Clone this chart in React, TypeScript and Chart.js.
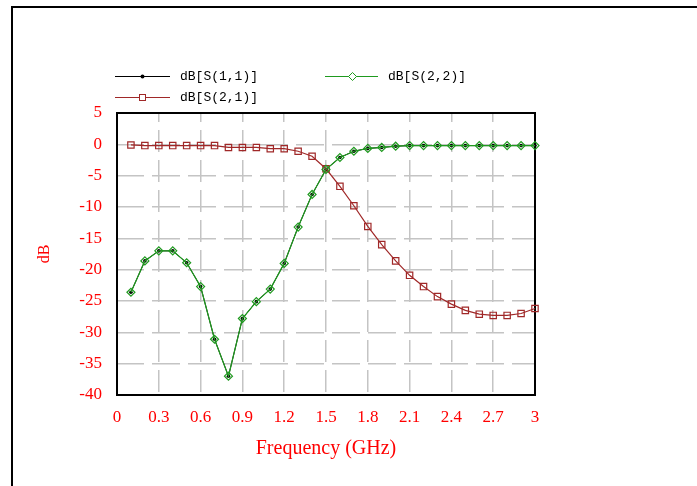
import React, { useEffect, useRef } from 'react';
import { Chart, registerables } from 'chart.js';

Chart.register(...registerables);

// ---- data ----
const freqGHz = [0.1, 0.2, 0.3, 0.4, 0.5, 0.6, 0.7, 0.8, 0.9, 1.0, 1.1, 1.2, 1.3, 1.4, 1.5, 1.6, 1.7, 1.8, 1.9, 2.0, 2.1, 2.2, 2.3, 2.4, 2.5, 2.6, 2.7, 2.8, 2.9, 3.0];
const s22 = [-23.6, -18.6, -17.0, -17.0, -18.9, -22.7, -31.1, -37.0, -27.8, -25.1, -23.1, -19.0, -13.2, -8.0, -4.0, -2.1, -1.1, -0.65, -0.5, -0.3, -0.2, -0.2, -0.2, -0.2, -0.2, -0.2, -0.2, -0.2, -0.2, -0.2];
const s11 = [-23.6, -18.6, -17.0, -17.0, -18.9, -22.7, -31.1, -37.0, -27.8, -25.1, -23.1, -19.0, -13.2, -8.0, -4.0, -2.1, -1.1, -0.65, -0.5, -0.3, -0.2, -0.2, -0.2, -0.2, -0.2, -0.2, -0.2, -0.2, -0.2, -0.2];
const s21 = [-0.1, -0.2, -0.2, -0.2, -0.2, -0.2, -0.2, -0.5, -0.5, -0.5, -0.7, -0.7, -1.1, -1.9, -3.9, -6.7, -9.8, -13.1, -16.0, -18.6, -20.9, -22.7, -24.3, -25.5, -26.5, -27.1, -27.3, -27.3, -27.0, -26.2];
const seriesNames = ['dB[S(1,1)]', 'dB[S(2,1)]', 'dB[S(2,2)]'];
const xTitle = 'Frequency (GHz)';
const yTitle = 'dB';

const GREEN = '#1f9a1f';
const MAROON = '#a02828';
const GRID = '#c4c4c4';
const RED = '#ff0000';

const pts = (ys: number[]) => freqGHz.map((x, i) => ({ x, y: ys[i] }));

const decorPlugin = {
  id: 'decor',
  beforeDraw(chart: any) {
    const ctx = chart.ctx;
    ctx.save();
    ctx.fillStyle = '#ffffff';
    ctx.fillRect(0, 0, chart.width, chart.height);
    ctx.strokeStyle = '#000';
    ctx.lineWidth = 2;
    ctx.beginPath();
    ctx.moveTo(12, chart.height + 5);
    ctx.lineTo(12, 7);
    ctx.lineTo(chart.width + 5, 7);
    ctx.stroke();
    ctx.restore();
  },
  beforeDatasetsDraw(chart: any) {
    const { ctx, chartArea: a } = chart;
    ctx.save();
    ctx.strokeStyle = '#000';
    ctx.lineWidth = 2;
    ctx.strokeRect(a.left, a.top, a.right - a.left, a.bottom - a.top);
    ctx.restore();
  },
  afterDraw(chart: any) {
    const ctx = chart.ctx;
    ctx.save();
    ctx.font = '13px "Liberation Mono", monospace';
    ctx.textBaseline = 'middle';
    ctx.fillStyle = '#000';
    ctx.lineWidth = 1;
    // S(1,1)
    ctx.strokeStyle = '#000';
    ctx.beginPath(); ctx.moveTo(115, 76.5); ctx.lineTo(170, 76.5); ctx.stroke();
    ctx.beginPath(); ctx.arc(142.5, 76.5, 2, 0, Math.PI * 2); ctx.fillStyle = '#000'; ctx.fill();
    ctx.fillText(seriesNames[0], 180, 77);
    // S(2,2)
    ctx.strokeStyle = GREEN;
    ctx.beginPath(); ctx.moveTo(325, 76.5); ctx.lineTo(378, 76.5); ctx.stroke();
    ctx.beginPath();
    ctx.moveTo(348.5, 76.5); ctx.lineTo(352.5, 72.5); ctx.lineTo(356.5, 76.5); ctx.lineTo(352.5, 80.5); ctx.closePath();
    ctx.fillStyle = '#fff'; ctx.fill(); ctx.stroke();
    ctx.fillStyle = '#000';
    ctx.fillText(seriesNames[2], 388, 77);
    // S(2,1)
    ctx.strokeStyle = MAROON;
    ctx.beginPath(); ctx.moveTo(115, 97.5); ctx.lineTo(170, 97.5); ctx.stroke();
    ctx.fillStyle = '#fff';
    ctx.fillRect(139, 94, 7, 7);
    ctx.strokeRect(139.5, 94.5, 6, 6);
    ctx.fillStyle = '#000';
    ctx.fillText(seriesNames[1], 180, 98);
    ctx.restore();
  },
};

export default function App() {
  const ref = useRef<HTMLCanvasElement>(null);
  useEffect(() => {
    const chart = new Chart(ref.current as HTMLCanvasElement, {
      type: 'line',
      data: {
        datasets: [
          {
            label: seriesNames[2],
            data: pts(s22),
            borderColor: GREEN,
            borderWidth: 1.2,
            pointStyle: 'rectRot',
            pointRadius: 4,
            pointBorderWidth: 1.2,
            pointBorderColor: GREEN,
            pointBackgroundColor: 'rgba(0,0,0,0)',
            tension: 0,
            clip: false as any,
          },
          {
            label: seriesNames[1],
            data: pts(s21),
            borderColor: MAROON,
            borderWidth: 1.2,
            pointStyle: 'rect',
            pointRadius: 4.5,
            pointBorderWidth: 1.2,
            pointBorderColor: MAROON,
            pointBackgroundColor: 'rgba(0,0,0,0)',
            tension: 0,
            clip: false as any,
          },
          {
            label: seriesNames[0],
            data: pts(s11),
            borderColor: '#000',
            borderWidth: 1,
            pointStyle: 'circle',
            pointRadius: 1.8,
            pointBorderWidth: 0,
            pointBackgroundColor: '#000',
            tension: 0,
            clip: false as any,
          },
        ],
      },
      options: {
        responsive: false,
        devicePixelRatio: 1,
        animation: false,
        layout: { padding: { top: 113, right: 162, left: 0, bottom: 0 } },
        plugins: { legend: { display: false }, tooltip: { enabled: false } },
        scales: {
          x: {
            type: 'linear',
            min: 0,
            max: 3,
            ticks: {
              stepSize: 0.3,
              color: RED,
              font: { family: '"Liberation Serif", serif', size: 17 },
              padding: 12,
              maxRotation: 0,
              autoSkip: false,
              callback: (v: any) => String(Math.round(Number(v) * 10) / 10),
            },
            grid: { color: GRID, lineWidth: 1.5, drawTicks: false },
            border: { display: false, dash: [22, 8], dashOffset: 13 },
            title: {
              display: true,
              text: xTitle,
              color: RED,
              font: { family: '"Liberation Serif", serif', size: 20 },
              padding: { top: 0, bottom: 25 },
            },
            afterFit: (s: any) => { s.height = 91; },
          },
          y: {
            type: 'linear',
            min: -40,
            max: 5,
            ticks: {
              stepSize: 5,
              color: RED,
              font: { family: '"Liberation Serif", serif', size: 17 },
              padding: 15,
            },
            grid: { color: GRID, lineWidth: 1.5, drawTicks: false },
            border: { display: false, dash: [28, 8], dashOffset: 1 },
            title: {
              display: true,
              text: yTitle,
              color: RED,
              font: { family: '"Liberation Serif", serif', size: 16 },
              padding: { top: 35, bottom: 0 },
            },
            afterFit: (s: any) => { s.width = 117; },
          },
        },
      },
      plugins: [decorPlugin],
    } as any);
    return () => chart.destroy();
  }, []);
  return (
    <div style={{ position: 'absolute', left: 0, top: 0, width: 697, height: 486 }}>
      <canvas ref={ref} width={697} height={486} style={{ display: 'block', width: 697, height: 486 }} />
    </div>
  );
}
